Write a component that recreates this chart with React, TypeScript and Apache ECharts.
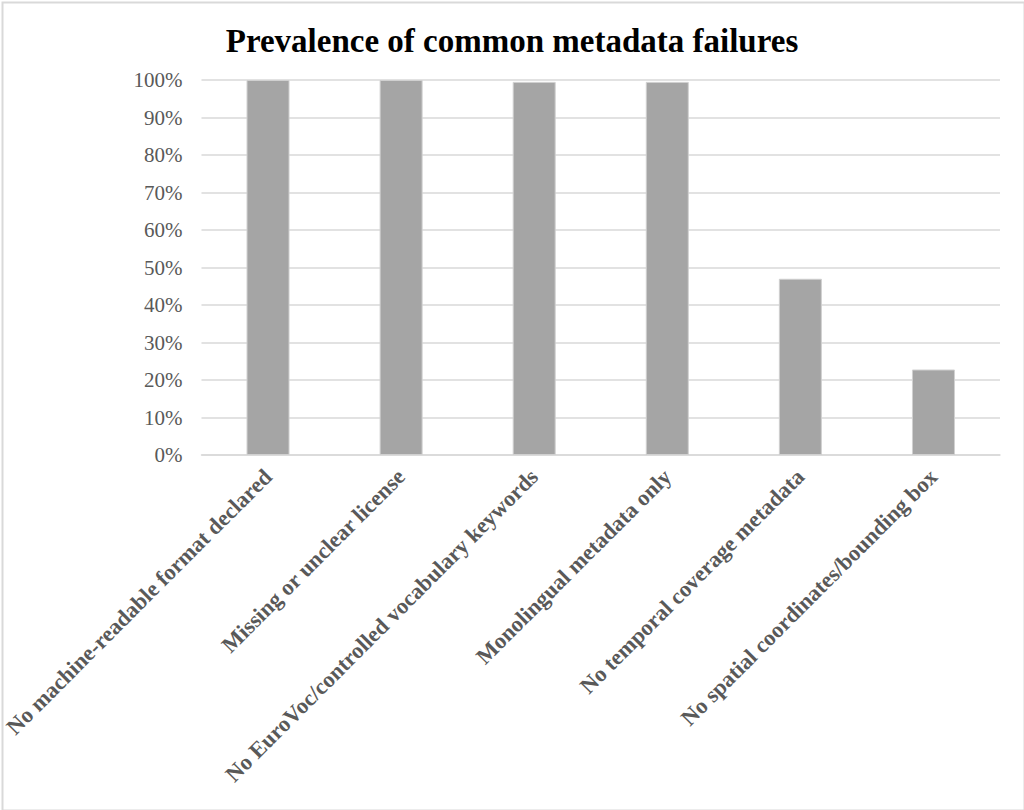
import React, { useEffect, useRef } from "react";
import * as echarts from "echarts";

const categories = [
  "No machine-readable format declared",
  "Missing or unclear license",
  "No EuroVoc/controlled vocabulary keywords",
  "Monolingual metadata only",
  "No temporal coverage metadata",
  "No spatial coordinates/bounding box",
];
const values = [100, 100, 99.5, 99.5, 47, 22.8];
const title = "Prevalence of common metadata failures";

export default function App() {
  const ref = useRef<HTMLDivElement>(null);
  useEffect(() => {
    document.body.style.margin = "0";
    const chart = echarts.init(ref.current!, null, { renderer: "svg" });
    chart.setOption({
      animation: false,
      backgroundColor: "#fff",
      graphic: [
        {
          type: "rect",
          left: 0,
          top: 0,
          shape: { x: 1, y: 1, width: 1022, height: 808 },
          style: { fill: "none", stroke: "#d9d9d9", lineWidth: 2 },
          silent: true,
        },
      ],
      title: {
        text: title,
        left: "center",
        top: 19,
        textStyle: {
          fontFamily: "Liberation Serif",
          fontWeight: "bold",
          fontSize: 33,
          color: "#000",
        },
      },
      grid: { left: 200, right: 24, top: 80, bottom: 355, containLabel: false },
      xAxis: {
        type: "category",
        data: categories,
        axisLine: { lineStyle: { color: "#d9d9d9", width: 1.5 } },
        axisTick: { show: false },
        axisLabel: {
          rotate: 45,
          interval: 0,
          margin: 18,
          fontFamily: "Liberation Serif",
          fontWeight: "bold",
          fontSize: 22.5,
          color: "#595959",
        },
      },
      yAxis: {
        type: "value",
        min: 0,
        max: 100,
        interval: 10,
        axisLine: { show: false },
        axisTick: { show: false },
        splitLine: { lineStyle: { color: "#d9d9d9", width: 1.5 } },
        axisLabel: {
          formatter: "{value}%",
          margin: 19,
          fontFamily: "Liberation Serif",
          fontSize: 21,
          color: "#595959",
        },
      },
      series: [
        {
          type: "bar",
          data: values,
          barWidth: 43,
          itemStyle: { color: "#a5a5a5", borderColor: "#d0d0d0", borderWidth: 1 },
        },
      ],
    });
    return () => chart.dispose();
  }, []);
  return (
    <div
      ref={ref}
      style={{ position: "absolute", left: 0, top: 0, width: 1024, height: 810 }}
    />
  );
}
